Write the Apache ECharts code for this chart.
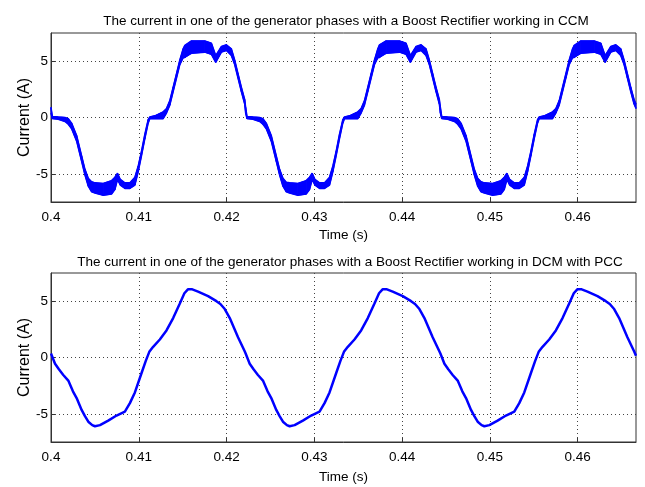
<!DOCTYPE html>
<html>
<head>
<meta charset="utf-8">
<script src="https://cdn.jsdelivr.net/npm/echarts@6/dist/echarts.min.js"></script>
<style>
html, body { margin: 0; padding: 0; background: #fff; }
#main { width: 645px; height: 487px; }
</style>
</head>
<body>
<div id="main"></div>
<script>
// tick labels
const xTicks = [0.4, 0.41, 0.42, 0.43, 0.44, 0.45, 0.46]
const yTicks = [-5, 0, 5]

// CCM: upper / lower edge of the ripple band
const ccmTime = [
  0.40000, 0.40015, 0.40083, 0.40159, 0.40197, 0.40235, 0.40292, 0.40349, 0.40387, 0.40425,
  0.40463, 0.40501, 0.40595, 0.40690, 0.40728, 0.40758, 0.40790, 0.40842, 0.40899, 0.40956,
  0.40994, 0.41031, 0.41069, 0.41107, 0.41126, 0.41183, 0.41278, 0.41316, 0.41354, 0.41392,
  0.41430, 0.41468, 0.41506, 0.41525, 0.41600, 0.41752, 0.41828, 0.41877, 0.41942, 0.41999,
  0.42055, 0.42093, 0.42131, 0.42169, 0.42207,
  0.42218, 0.42233, 0.42301, 0.42377, 0.42415, 0.42453, 0.42510, 0.42567, 0.42605, 0.42643,
  0.42681, 0.42719, 0.42813, 0.42908, 0.42946, 0.42976, 0.43008, 0.43060, 0.43117, 0.43174,
  0.43212, 0.43249, 0.43287, 0.43325, 0.43344, 0.43401, 0.43496, 0.43534, 0.43572, 0.43610,
  0.43648, 0.43686, 0.43724, 0.43743, 0.43818, 0.43970, 0.44046, 0.44095, 0.44160, 0.44217,
  0.44273, 0.44311, 0.44349, 0.44387, 0.44425,
  0.44437, 0.44452, 0.44520, 0.44596, 0.44634, 0.44672, 0.44729, 0.44786, 0.44824, 0.44862,
  0.44900, 0.44938, 0.45032, 0.45127, 0.45165, 0.45195, 0.45227, 0.45279, 0.45336, 0.45393,
  0.45431, 0.45468, 0.45506, 0.45544, 0.45563, 0.45620, 0.45715, 0.45753, 0.45791, 0.45829,
  0.45867, 0.45905, 0.45943, 0.45962, 0.46037, 0.46189, 0.46265, 0.46314, 0.46379, 0.46436,
  0.46492, 0.46530, 0.46568, 0.46606, 0.46644, 0.46666
]
const ccmUpper = [
  0.9, 0.1, 0.05, 0.0, -0.1, -0.5, -1.6, -3.4, -4.6, -5.4,
  -5.7, -5.8, -5.85, -5.6, -5.3, -4.95, -5.5, -5.8, -5.8, -5.3,
  -4.3, -3.0, -1.5, -0.2, 0.05, 0.15, 0.5, 0.8, 1.5, 2.7,
  3.9, 5.1, 6.1, 6.4, 6.8, 6.8, 6.6, 5.5, 6.3, 6.45,
  6.1, 5.1, 3.9, 2.7, 1.6,
  0.9, 0.1, 0.05, 0.0, -0.1, -0.5, -1.6, -3.4, -4.6, -5.4,
  -5.75, -5.8, -5.85, -5.6, -5.3, -4.95, -5.5, -5.8, -5.8, -5.3,
  -4.3, -3.0, -1.5, -0.2, 0.05, 0.15, 0.5, 0.8, 1.5, 2.7,
  3.9, 5.1, 6.1, 6.45, 6.8, 6.8, 6.6, 5.5, 6.3, 6.45,
  6.1, 5.1, 3.9, 2.7, 1.6,
  0.9, 0.1, 0.05, 0.0, -0.1, -0.5, -1.6, -3.4, -4.6, -5.4,
  -5.7, -5.8, -5.85, -5.6, -5.3, -4.95, -5.5, -5.8, -5.8, -5.3,
  -4.3, -3.0, -1.5, -0.2, 0.05, 0.15, 0.5, 0.8, 1.5, 2.7,
  3.9, 5.1, 6.1, 6.4, 6.8, 6.8, 6.6, 5.5, 6.3, 6.45,
  6.1, 5.1, 3.9, 2.7, 1.6, 1.2
]
const ccmLower = [
  0.4, -0.1, -0.15, -0.35, -0.6, -1.0, -2.1, -3.9, -5.1, -6.1,
  -6.6, -6.7, -6.9, -6.8, -6.4, -5.5, -6.0, -6.3, -6.3, -6.0,
  -4.8, -3.4, -1.9, -0.5, -0.1, -0.1, -0.1, 0.4, 1.1, 2.3,
  3.5, 4.7, 5.3, 5.3, 5.7, 5.8, 5.6, 4.9, 5.8, 5.95,
  5.5, 4.7, 3.5, 2.3, 1.2,
  0.4, -0.1, -0.15, -0.35, -0.6, -1.0, -2.1, -3.9, -5.1, -6.1,
  -6.6, -6.7, -6.9, -6.8, -6.4, -5.5, -6.0, -6.3, -6.3, -6.0,
  -4.8, -3.4, -1.9, -0.5, -0.1, -0.1, -0.1, 0.4, 1.1, 2.3,
  3.5, 4.7, 5.3, 5.3, 5.7, 5.8, 5.6, 4.9, 5.8, 5.95,
  5.5, 4.7, 3.5, 2.3, 1.2,
  0.4, -0.1, -0.15, -0.35, -0.6, -1.0, -2.1, -3.9, -5.1, -6.1,
  -6.6, -6.7, -6.9, -6.8, -6.4, -5.5, -6.0, -6.3, -6.3, -6.0,
  -4.8, -3.4, -1.9, -0.5, -0.1, -0.1, -0.1, 0.4, 1.1, 2.3,
  3.5, 4.7, 5.3, 5.3, 5.7, 5.8, 5.6, 4.9, 5.8, 5.95,
  5.5, 4.7, 3.5, 2.3, 1.2, 0.8
]

// DCM with PCC
const dcmTime = [
  0.40000, 0.40046, 0.40090, 0.40140, 0.40197, 0.40250, 0.40292, 0.40349, 0.40387, 0.40425,
  0.40470, 0.40501, 0.40558, 0.40652, 0.40747, 0.40842, 0.40899, 0.40956, 0.41031, 0.41080,
  0.41120, 0.41164, 0.41240, 0.41316, 0.41392, 0.41468, 0.41520, 0.41560, 0.41610, 0.41676,
  0.41790, 0.41885, 0.41930, 0.41980, 0.42037, 0.42131, 0.42207,
  0.42218, 0.42264, 0.42308, 0.42358, 0.42415, 0.42468, 0.42510, 0.42567, 0.42605, 0.42643,
  0.42688, 0.42719, 0.42776, 0.42870, 0.42965, 0.43060, 0.43117, 0.43174, 0.43249, 0.43298,
  0.43338, 0.43382, 0.43458, 0.43534, 0.43610, 0.43686, 0.43738, 0.43778, 0.43828, 0.43894,
  0.44008, 0.44103, 0.44148, 0.44198, 0.44255, 0.44349, 0.44425,
  0.44437, 0.44483, 0.44527, 0.44577, 0.44634, 0.44687, 0.44729, 0.44786, 0.44824, 0.44862,
  0.44907, 0.44938, 0.44995, 0.45089, 0.45184, 0.45279, 0.45336, 0.45393, 0.45468, 0.45517,
  0.45557, 0.45601, 0.45677, 0.45753, 0.45829, 0.45905, 0.45957, 0.45997, 0.46047, 0.46113,
  0.46227, 0.46322, 0.46367, 0.46417, 0.46474, 0.46568, 0.46644, 0.46666
]
const dcmCurrent = [
  0.35, -0.55, -1.05, -1.55, -2.05, -3.0, -3.6, -4.65, -5.2, -5.7,
  -6.0, -6.1, -6.0, -5.6, -5.15, -4.8, -4.05, -3.1, -1.4, -0.3,
  0.5, 0.95, 1.6, 2.4, 3.5, 4.8, 5.7, 6.05, 6.05, 5.85,
  5.45, 5.0, 4.75, 4.3, 3.5, 1.8, 0.55,
  0.35, -0.55, -1.05, -1.55, -2.05, -3.0, -3.6, -4.65, -5.2, -5.7,
  -6.0, -6.1, -6.0, -5.6, -5.15, -4.8, -4.05, -3.1, -1.4, -0.3,
  0.5, 0.95, 1.6, 2.4, 3.5, 4.8, 5.7, 6.05, 6.05, 5.85,
  5.45, 5.0, 4.75, 4.3, 3.5, 1.8, 0.55,
  0.35, -0.55, -1.05, -1.55, -2.05, -3.0, -3.6, -4.65, -5.2, -5.7,
  -6.0, -6.1, -6.0, -5.6, -5.15, -4.8, -4.05, -3.1, -1.4, -0.3,
  0.5, 0.95, 1.6, 2.4, 3.5, 4.8, 5.7, 6.05, 6.05, 5.85,
  5.45, 5.0, 4.75, 4.3, 3.5, 1.8, 0.55, 0.15
]

const titles = [
  'The current in one of the generator phases with a Boost Rectifier working in CCM',
  'The current in one of the generator phases with a Boost Rectifier working in DCM with PCC'
]

const font = "'Liberation Sans', Arial, Helvetica, sans-serif"
const blue = '#0000ff'

function xAxisFor (i) {
  return {
    gridIndex: i,
    type: 'value',
    min: 0.4,
    max: 0.46666,
    name: 'Time (s)',
    nameLocation: 'middle',
    nameGap: i === 0 ? 26 : 28,
    nameTextStyle: { fontFamily: font, fontSize: 13.5, color: '#000' },
    axisLine: { show: true, onZero: false, lineStyle: { color: '#333', width: 1 } },
    axisTick: { show: true, inside: true, length: 4, customValues: xTicks, lineStyle: { color: '#333' } },
    axisLabel: {
      customValues: xTicks,
      margin: 8,
      fontFamily: font,
      fontSize: 13.5,
      color: '#000',
      formatter: v => String(+v.toFixed(2))
    },
    splitLine: { show: true, lineStyle: { type: [1, 3], color: '#444', width: 1 } }
  }
}

function yAxisFor (i) {
  return {
    gridIndex: i,
    type: 'value',
    min: -7.5,
    max: 7.5,
    name: 'Current (A)',
    nameLocation: 'middle',
    nameGap: 18,
    nameMoveOverlap: false,
    nameTextStyle: { fontFamily: font, fontSize: 16, color: '#000' },
    axisLine: { show: true, lineStyle: { color: '#333', width: 1 } },
    axisTick: { show: true, inside: true, length: 4, customValues: yTicks, lineStyle: { color: '#333' } },
    axisLabel: { customValues: yTicks, margin: 3, fontFamily: font, fontSize: 13.5, color: '#000' },
    splitLine: { show: true, lineStyle: { type: [1, 3], color: '#444', width: 1 } }
  }
}

// one quad per step between consecutive samples: [t0, t1, up0, low0, up1, low1]
const ccmBand = []
for (let k = 0; k < ccmTime.length - 1; k++) {
  ccmBand.push([ccmTime[k], ccmTime[k + 1], ccmUpper[k], ccmLower[k], ccmUpper[k + 1], ccmLower[k + 1]])
}
const ccmUpperData = ccmTime.map((t, k) => [t, ccmUpper[k]])
const ccmLowerData = ccmTime.map((t, k) => [t, ccmLower[k]])
const dcmData = dcmTime.map((t, k) => [t, dcmCurrent[k]])

function renderBand (params, api) {
  const a = api.coord([api.value(0), api.value(2)])
  const b = api.coord([api.value(1), api.value(4)])
  const c = api.coord([api.value(1), api.value(5)])
  const d = api.coord([api.value(0), api.value(3)])
  return {
    type: 'polygon',
    shape: { points: [a, b, c, d] },
    style: { fill: blue, stroke: blue, lineWidth: 1 }
  }
}

const option = {
  animation: false,
  backgroundColor: '#fff',
  title: [
    {
      text: titles[0],
      left: 341,
      top: 9,
      textAlign: 'center',
      textStyle: { fontFamily: font, fontSize: 13.5, fontWeight: 'normal', color: '#000' }
    },
    {
      text: titles[1],
      left: 345,
      top: 250,
      textAlign: 'center',
      textStyle: { fontFamily: font, fontSize: 13.5, fontWeight: 'normal', color: '#000' }
    }
  ],
  grid: [
    { left: 51, top: 33, width: 585, height: 169, show: true, borderColor: '#333', borderWidth: 1 },
    { left: 51, top: 273, width: 585, height: 169, show: true, borderColor: '#333', borderWidth: 1 }
  ],
  xAxis: [xAxisFor(0), xAxisFor(1)],
  yAxis: [yAxisFor(0), yAxisFor(1)],
  series: [
    {
      type: 'custom',
      xAxisIndex: 0,
      yAxisIndex: 0,
      data: ccmBand,
      encode: { x: [0, 1], y: [2, 3, 4, 5] },
      renderItem: renderBand
    },
    {
      type: 'line',
      xAxisIndex: 0,
      yAxisIndex: 0,
      showSymbol: false,
      data: ccmUpperData,
      lineStyle: { color: blue, width: 1.5 }
    },
    {
      type: 'line',
      xAxisIndex: 0,
      yAxisIndex: 0,
      showSymbol: false,
      data: ccmLowerData,
      lineStyle: { color: blue, width: 1.5 }
    },
    {
      type: 'line',
      xAxisIndex: 1,
      yAxisIndex: 1,
      showSymbol: false,
      data: dcmData,
      lineStyle: { color: blue, width: 2.5 }
    }
  ]
}

const myChart = echarts.init(document.getElementById('main'))
myChart.setOption(option)
</script>
</body>
</html>
